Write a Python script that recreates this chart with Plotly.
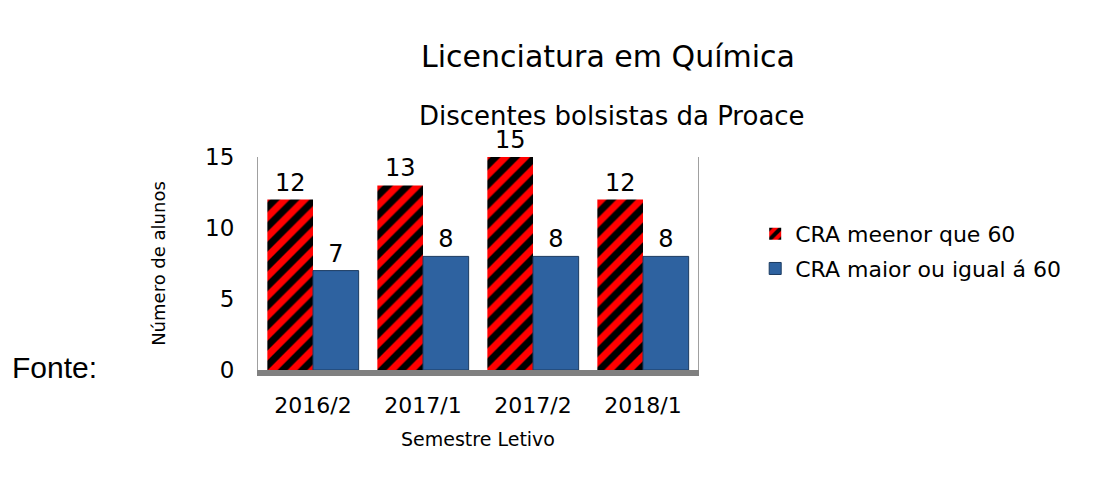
import plotly.graph_objects as go

categories = ["2016/2", "2017/1", "2017/2", "2018/1"]
cra_menor = [12, 13, 15, 12]
cra_maior = [7, 8, 8, 8]
y_ticks = [0, 5, 10, 15]

font = "DejaVu Sans"

fig = go.Figure()
fig.add_trace(go.Bar(
    x=categories, y=cra_menor, name="CRA meenor que 60", legendgroup="a",
    marker=dict(color="#FF0000", line=dict(width=0),
                pattern=dict(shape="/", fgcolor="black", bgcolor="#FF0000", fgopacity=1,
                             size=14, solidity=0.5)),
    text=cra_menor, textposition="outside", textfont=dict(size=24, color="black", family=font),
    cliponaxis=False,
))
fig.add_trace(go.Bar(
    x=categories, y=cra_maior, name="CRA maior ou igual á 60", legendgroup="b",
    marker=dict(color="#2E62A0", line=dict(color="#1B3A60", width=1)),
    text=cra_maior, textposition="outside", textfont=dict(size=24, color="black", family=font),
    cliponaxis=False,
))

fig.update_layout(
    width=1107, height=483,
    paper_bgcolor="white", plot_bgcolor="white",
    margin=dict(l=250, r=417, t=149, b=121, autoexpand=False),
    barmode="group", bargap=0.17, bargroupgap=0,
    font=dict(family=font, color="black"),
    title=dict(text="Licenciatura em Química", x=0.542, xanchor="center", y=0.899, yanchor="middle",
               font=dict(size=30, family=font)),
    showlegend=True,
    legend=dict(x=1.13, xanchor="left", y=0.556, yanchor="middle", font=dict(size=22, family=font),
                traceorder="grouped", tracegroupgap=3, itemwidth=30, bgcolor="rgba(0,0,0,0)"),
    xaxis=dict(tickfont=dict(size=22), ticklabelstandoff=11,
               title=dict(text="Semestre Letivo", font=dict(size=19), standoff=17),
               showline=True, linecolor="#808080", linewidth=6, ticks=""),
    yaxis=dict(range=[0, 15], tickvals=y_ticks, tickfont=dict(size=23), showgrid=False,
               ticklabelstandoff=18,
               title=dict(text="Número de alunos", font=dict(size=18), standoff=34),
               showline=True, linecolor="#a0a0a0", linewidth=1, mirror=True, ticks=""),
    annotations=[
        dict(text="Discentes bolsistas da Proace", xref="paper", yref="paper", x=0.805, y=1.192,
             xanchor="center", yanchor="middle", showarrow=False, font=dict(size=26, family=font)),
        dict(text="Fonte:", xref="paper", yref="paper", x=-0.564, y=0.014, xanchor="left", yanchor="middle",
             showarrow=False, font=dict(size=30, family="Liberation Sans")),
    ],
)

fig.write_html("out.html")
